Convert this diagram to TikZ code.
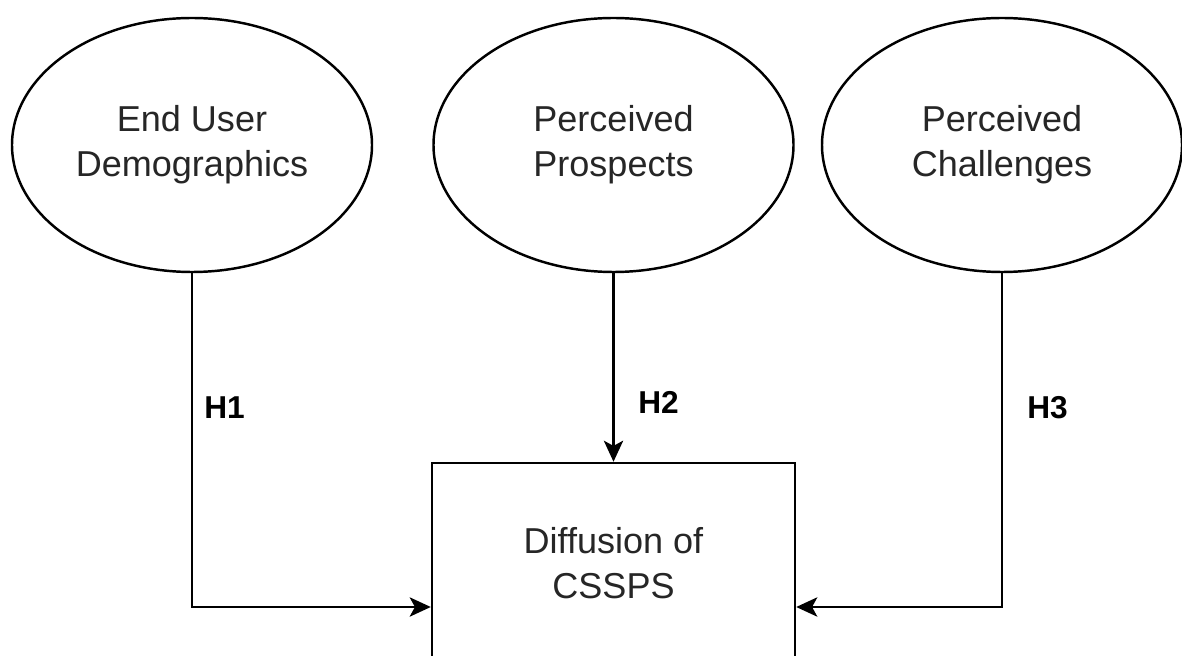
\documentclass[tikz,border=0pt]{standalone}
\usepackage{fontspec}
\setmainfont{Liberation Sans}
\usetikzlibrary{arrows.meta}
\usetikzlibrary{shapes.geometric}
\tikzset{construct/.style={ellipse, draw, line width=1.4pt, minimum width=7.2cm,
  minimum height=5.08cm, inner sep=0pt, align=center, text=black!85,
  font=\fontsize{20.5}{25.6}\selectfont}}
\tikzset{outcome/.style={rectangle, draw, line width=1.4pt, minimum width=7.26cm,
  minimum height=4cm, inner sep=0pt, align=center, text=black!85,
  font=\fontsize{20.5}{25.6}\selectfont}}
\tikzset{conn/.style={line width=1.3pt, -{Stealth[length=12pt, width=11pt, inset=3pt]}}}
\tikzset{hyp/.style={inner sep=0pt, anchor=west, font=\fontsize{18}{20}\selectfont\bfseries}}

\begin{document}
\begin{tikzpicture}
      \clip (0, 0) rectangle (23.64, 13.1);
      \fill [white] (0, 0) rectangle (23.64, 13.1);

      \node [construct] (dem) at (3.84, 10.2) {End User\\Demographics};
      \node [construct] (pro) at (12.27, 10.2) {Perceived\\Prospects};
      \node [construct] (cha) at (20.04, 10.2) {Perceived\\Challenges};

      \node [outcome] (diff) at (12.27, 1.84) {Diffusion of\\CSSPS};

      \coordinate (inL) at ([yshift=-0.88cm]diff.west);
      \coordinate (inR) at ([yshift=-0.88cm]diff.east);

      \draw [conn] (dem.south) |- (inL);
      \draw [conn] (pro.south) -- (diff.north);
      \draw [conn] (cha.south) |- (inR);

      \node [hyp] (h1) at (4.08, 4.94) {H1};
      \node [hyp] (h2) at (12.76, 5.06) {H2};
      \node [hyp] (h3) at (20.54, 4.94) {H3};
    \end{tikzpicture}
\end{document}
